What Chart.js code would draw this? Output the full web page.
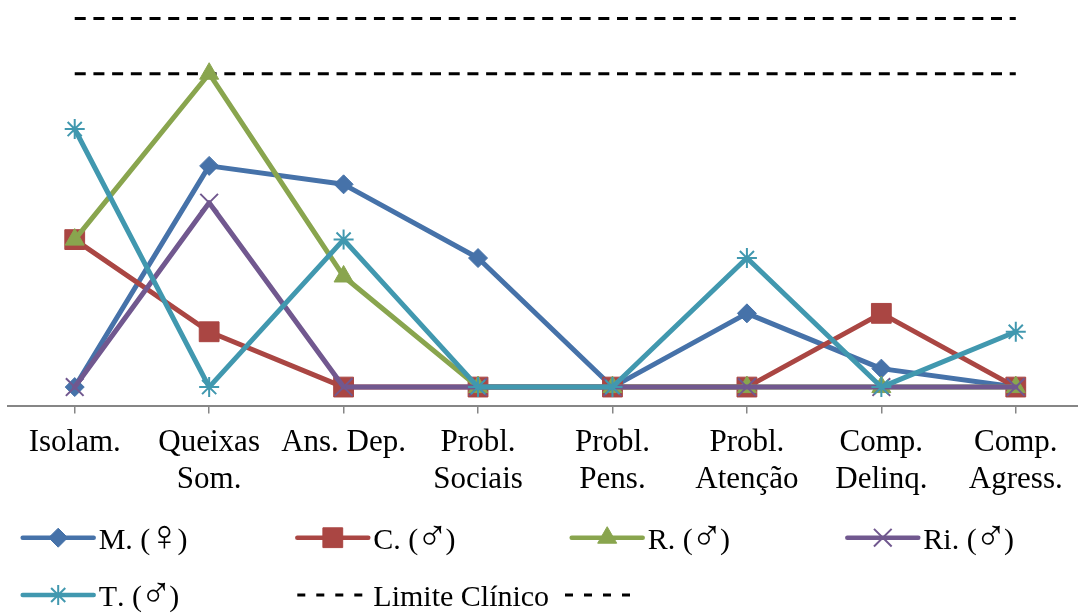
<!DOCTYPE html>
<html>
<head>
<meta charset="utf-8">
<script src="https://cdn.jsdelivr.net/npm/chart.js@4.4.1/dist/chart.umd.min.js"></script>
<style>
	html, body { margin: 0; padding: 0; background: #ffffff; overflow: hidden; }
	#wrap { width: 1083px; height: 613px; }
</style>
</head>
<body>
<div id="wrap"><canvas id="scores-chart" width="1083" height="613"></canvas></div>
<script>
/* data */

var categories = ['Isolam.', ['Queixas', 'Som.'], 'Ans. Dep.', ['Probl.', 'Sociais'], ['Probl.', 'Pens.'], ['Probl.', 'Atenção'], ['Comp.', 'Delinq.'], ['Comp.', 'Agress.']];

var scoresM = [50, 62, 61, 57, 50, 54, 51, 50];
var scoresC = [58, 53, 50, 50, 50, 50, 54, 50];
var scoresR = [58, 67, 56, 50, 50, 50, 50, 50];
var scoresRi = [50, 60, 50, 50, 50, 50, 50, 50];
var scoresT = [64, 50, 58, 50, 50, 57, 50, 53];

var limitClinical = [70, 70, 70, 70, 70, 70, 70, 70];
var limitBorder = [67, 67, 67, 67, 67, 67, 67, 67];

var labels = ['M. (♀)', 'C. (♂)', 'R. (♂)', 'Ri. (♂)', 'T. (♂)', 'Limite Clínico', ''];

var yMin = 49;
var yMax = 71;

/* styles */

var fontFamily = "'Liberation Serif', 'Times New Roman', serif";
var symbolFont = "200 43px 'DejaVu Sans', sans-serif";

var getSeries = function(label, data, color, style, radius, order) {
	var thin = (style == 'crossRot' || style == 'star');
	return {
		label: label, data: data, order: order,
		borderColor: color, backgroundColor: color, borderWidth: 5,
		borderJoinStyle: 'round', borderCapStyle: 'round', tension: 0,
		pointStyle: style, pointRadius: radius, pointHoverRadius: radius,
		pointBackgroundColor: color, pointBorderColor: color, pointBorderWidth: thin ? 2 : 1
	};
};

var getLimit = function(label, data) {
	return {
		label: label, data: data, order: 6,
		borderColor: '#000000', backgroundColor: '#000000', borderWidth: 3,
		borderDash: [11, 7.7], borderCapStyle: 'butt', pointRadius: 0, pointHoverRadius: 0
	};
};

var datasets = [
	getSeries(labels[0], scoresM, '#4672a9', 'rectRot', 9.5, 5),
	getSeries(labels[1], scoresC, '#aa4643', 'rect', 14, 4),
	getSeries(labels[2], scoresR, '#89a54e', 'triangle', 11, 3),
	getSeries(labels[3], scoresRi, '#71588f', 'crossRot', 12.5, 2),
	getSeries(labels[4], scoresT, '#4198af', 'star', 10, 1),
	getLimit(labels[5], limitClinical),
	getLimit(labels[6], limitBorder)
];

/* legend drawn in a fixed grid like the original */

var drawLabel = function(ctx, text, x, y, opts) {
	ctx.fillStyle = '#000000';
	ctx.textBaseline = 'alphabetic';
	ctx.textAlign = 'left';
	// gender signs are drawn bigger and thinner, as in the original
	for (var i = 0; i < text.length; i++) {
		var c = text.charAt(i);
		var symbol = (c == '♀' || c == '♂');
		ctx.font = symbol ? opts.symbolFont : opts.font;
		if (symbol) {
			x -= 2;
		}
		ctx.fillText(c, x, symbol ? y + opts.symbolShift : y);
		x += ctx.measureText(c).width - (symbol ? 3 : 0);
	}
};

var gridLegend = {
	id: 'gridLegend',
	afterDraw: function(chart, args, opts) {
		var ctx = chart.ctx;
		ctx.save();
		for (var i = 0; i < chart.data.datasets.length; i++) {
			var ds = chart.data.datasets[i];
			var pos = opts.positions[i];
			ctx.strokeStyle = ds.borderColor;
			ctx.fillStyle = ds.backgroundColor;
			ctx.beginPath();
			if (ds.borderDash) {
				ctx.setLineDash(opts.dash);
				ctx.lineWidth = 3;
				ctx.lineCap = 'butt';
				ctx.moveTo(pos.x, pos.y);
				ctx.lineTo(pos.x + 65, pos.y);
				ctx.stroke();
				ctx.setLineDash([]);
			} else {
				ctx.lineWidth = 4.5;
				ctx.lineCap = 'round';
				ctx.moveTo(pos.x, pos.y);
				ctx.lineTo(pos.x + 71, pos.y);
				ctx.stroke();
				ctx.lineWidth = ds.pointBorderWidth;
				ctx.lineCap = 'butt';
				Chart.helpers.drawPoint(ctx, { pointStyle: ds.pointStyle, radius: ds.pointRadius, borderWidth: ds.pointBorderWidth, rotation: 0 }, pos.x + 35.5, pos.y);
			}
			if (ds.label) {
				drawLabel(ctx, ds.label, pos.x + 76, pos.y + 10.8, opts);
			}
		}
		ctx.restore();
	}
};

var setChart = function() {
	var context = document.getElementById('scores-chart').getContext('2d');
	var payload = {
		type: 'line',
		data: { labels: categories, datasets: datasets },
		plugins: [gridLegend],
		options: {
			responsive: false,
			animation: false,
			layout: { autoPadding: false, padding: { left: 7.5, right: 0, top: 0, bottom: 0 } },
			plugins: {
				legend: { display: false },
				tooltip: { enabled: false },
				gridLegend: {
					font: '30px ' + fontFamily,
					symbolFont: symbolFont,
					symbolShift: 1,
					dash: [8, 11],
					positions: [
						{ x: 22.7, y: 537.7 }, { x: 297.3, y: 537.7 }, { x: 571.7, y: 537.7 }, { x: 847.3, y: 537.7 },
						{ x: 22.7, y: 595 }, { x: 297.3, y: 595 }, { x: 565, y: 595 }
					]
				}
			},
			scales: {
				x: {
					offset: true,
					grid: { display: true, drawOnChartArea: false, offset: false, tickLength: 8, color: '#868686', lineWidth: 1.5 },
					border: { display: true, color: '#868686', width: 2 },
					ticks: { color: '#000000', padding: 11, maxRotation: 0, autoSkip: false, font: { family: fontFamily, size: 31, lineHeight: 1.18 } },
					afterFit: function(scale) { scale.height = 207.5; }
				},
				y: { display: false, min: yMin, max: yMax }
			}
		}
	};
	new Chart(context, payload);
};

document.addEventListener('DOMContentLoaded', setChart);
</script>
</body>
</html>
